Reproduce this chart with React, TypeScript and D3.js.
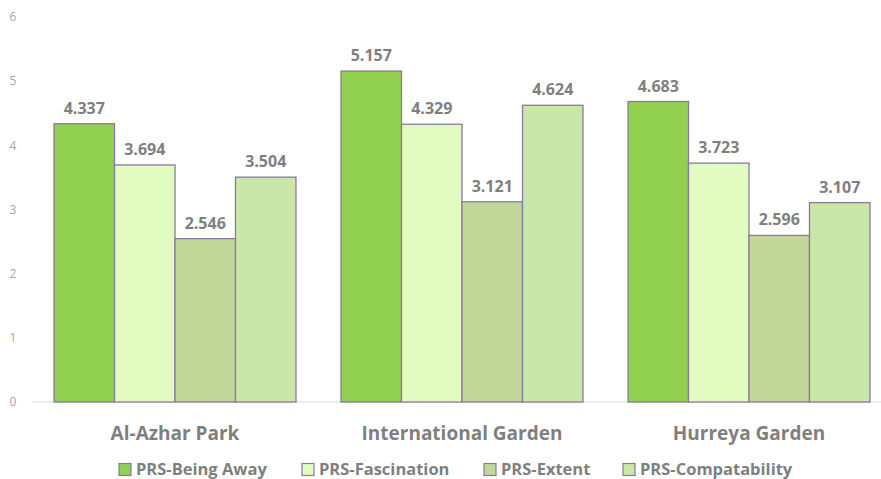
import React from "react";
import * as d3 from "d3";

const categories = ["Al-Azhar Park", "International Garden", "Hurreya Garden"];
const seriesNames = ["PRS-Being Away", "PRS-Fascination", "PRS-Extent", "PRS-Compatability"];
const beingAway = [4.337, 5.157, 4.683];
const fascination = [3.694, 4.329, 3.723];
const extent = [2.546, 3.121, 2.596];
const compatability = [3.504, 4.624, 3.107];
const yTicks = [0, 1, 2, 3, 4, 5, 6];
const colors = ["#92D050", "#E2FBC0", "#C4D79B", "#CAE6A9"];

const W = 881;
const H = 479;

export default function App() {
  const series = [beingAway, fascination, extent, compatability];
  const y = d3.scaleLinear().domain([0, 6]).range([402, 17]);
  const x0 = d3
    .scaleBand<string>()
    .domain(categories)
    .range([31.5, 892.5])
    .paddingInner(0.157)
    .paddingOuter(0.0785);
  const x1 = d3
    .scaleBand<string>()
    .domain(seriesNames)
    .range([0, x0.bandwidth()]);
  const font = "'Open Sans', sans-serif";
  const legendX = [119, 302, 484, 623];

  return (
    <svg width={W} height={H} style={{ position: "absolute", left: 0, top: 0 }} fontFamily={font}>
      <rect width={W} height={H} fill="#fff" />
      {yTicks.map((t) => (
        <text key={t} x={13} y={y(t)} dy="0.35em" fontSize={12} fill="#A6A6A6" textAnchor="middle">
          {t}
        </text>
      ))}
      <line x1={32} x2={881} y1={y(0)} y2={y(0)} stroke="#D9D9D9" strokeWidth={1} />
      {categories.map((c, ci) => (
        <g key={c} transform={`translate(${x0(c)},0)`}>
          {seriesNames.map((s, si) => {
            const v = series[si][ci];
            const bx = x1(s)!;
            return (
              <g key={s}>
                <rect
                  x={bx}
                  y={y(v)}
                  width={x1.bandwidth()}
                  height={y(0) - y(v)}
                  fill={colors[si]}
                  stroke="#8A7A9E"
                  strokeWidth={1.3}
                />
                <text
                  x={bx + x1.bandwidth() / 2}
                  y={y(v) - 10}
                  textAnchor="middle"
                  fontSize={16}
                  fontWeight="bold"
                  fill="#7F7F7F"
                >
                  {v.toFixed(3)}
                </text>
              </g>
            );
          })}
          <text
            x={x0.bandwidth() / 2}
            y={440}
            textAnchor="middle"
            fontSize={19}
            fontWeight="bold"
            fill="#7F7F7F"
          >
            {c}
          </text>
        </g>
      ))}
      {seriesNames.map((s, si) => (
        <g key={s} transform={`translate(${legendX[si]},0)`}>
          <rect x={0} y={463.5} width={12} height={12} fill={colors[si]} stroke="#8A7A9E" strokeWidth={1.2} />
          <text x={17} y={474.5} fontSize={16.5} fontWeight="bold" fill="#7F7F7F">
            {s}
          </text>
        </g>
      ))}
    </svg>
  );
}
